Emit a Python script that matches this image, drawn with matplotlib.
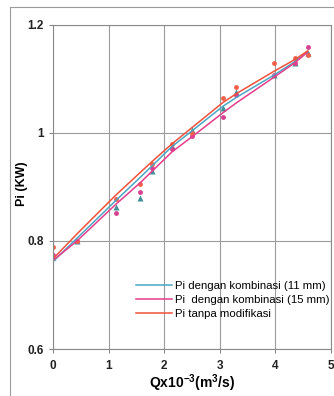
import matplotlib
matplotlib.use("Agg")
import matplotlib.pyplot as plt
from matplotlib.lines import Line2D

plt.rcParams['font.family'] = ['Liberation Sans', 'DejaVu Sans']
plt.rcParams['mathtext.fontset'] = 'custom'
plt.rcParams['mathtext.rm'] = 'Liberation Sans'
plt.rcParams['mathtext.bf'] = 'Liberation Sans:bold'

# debit Q (x10^-3 m3/s)
qx = [0, 0.43, 1.13, 1.57, 1.78, 2.14, 2.5, 3.05, 3.3, 3.97, 4.35, 4.58]

# titik data Pi (KW)
pi_11 = [0.770, 0.800, 0.863, 0.880, 0.930, 0.975, 1.005, 1.046, 1.076, 1.107, 1.130, 1.148]
pi_15 = [0.774, 0.800, 0.852, 0.890, 0.935, 0.970, 0.995, 1.030, 1.070, 1.107, 1.130, 1.160]
pi_tanpa = [0.789, 0.800, 0.878, 0.905, 0.943, 0.980, 1.000, 1.065, 1.085, 1.130, 1.139, 1.145]

# garis trend
fit_11 = [0.762, 0.805, 0.875, 0.918, 0.939, 0.975, 1.004, 1.049, 1.066, 1.107, 1.132, 1.150]
fit_15 = [0.764, 0.800, 0.868, 0.908, 0.929, 0.965, 0.993, 1.037, 1.056, 1.103, 1.130, 1.150]
fit_tanpa = [0.767, 0.813, 0.885, 0.927, 0.947, 0.980, 1.010, 1.056, 1.073, 1.114, 1.136, 1.152]

labels = ['Pi dengan kombinasi (11 mm)', 'Pi  dengan kombinasi (15 mm)', 'Pi tanpa modifikasi']

fig = plt.figure(figsize=(3.34, 3.96), dpi=100)
ax = fig.add_axes([53/334, 1-349/396, 278/334, 324/396])

# marker data
ax.plot(qx, pi_11, '^', color='#3f8f94', ms=4, mec='none')
ax.plot(qx, pi_15, 'o', color='#d9408f', ms=3.5, mec='none')
ax.plot(qx, pi_tanpa, 'o', color='#f2604a', ms=3.5, mec='none')

# garis
ax.plot(qx, fit_11, color='#4aa6c4', lw=1.1, label=labels[0])
ax.plot(qx, fit_15, color='#e63c8c', lw=1.1, label=labels[1])
ax.plot(qx, fit_tanpa, color='#f0503a', lw=1.1, label=labels[2])

ax.set_xlim(0, 5)
ax.set_ylim(0.6, 1.2)
ax.set_xticks([0, 1, 2, 3, 4, 5])
ax.set_yticks([0.6, 0.8, 1.0, 1.2])
ax.set_yticklabels(['0.6', '0.8', '1', '1.2'])
ax.grid(True, color='#9a9a9a', lw=0.8)
for s in ax.spines.values():
    s.set_color('#8a8a8a')
    s.set_linewidth(0.8)
ax.tick_params(colors='#8a8a8a', labelcolor='#222222', labelsize=8.5, length=3, width=0.8)
ax.tick_params(axis='x', pad=5)
for t in ax.get_xticklabels() + ax.get_yticklabels():
    t.set_fontweight('bold')

ax.set_xlabel(r'Qx10$^{\mathbf{-3}}$(m$^{\mathbf{3}}$/s)', fontsize=10, fontweight='bold', labelpad=0)
ax.set_ylabel('Pi (KW)', fontsize=9, fontweight='bold')
ax.yaxis.set_label_coords(-0.09, 0.51)

leg = ax.legend(loc='lower right', frameon=False, fontsize=8.2, handlelength=3.2,
                handletextpad=0.2, labelspacing=0.35, borderaxespad=0.0,
                bbox_to_anchor=(1.01, 0.08))

# bingkai luar
fig.add_artist(Line2D([10/334, 10/334], [0, 1-7/396], color='#9a9a9a', lw=0.8))
fig.add_artist(Line2D([10/334, 1], [1-7/396, 1-7/396], color='#9a9a9a', lw=0.8))

fig.savefig('out.png', dpi=100)
